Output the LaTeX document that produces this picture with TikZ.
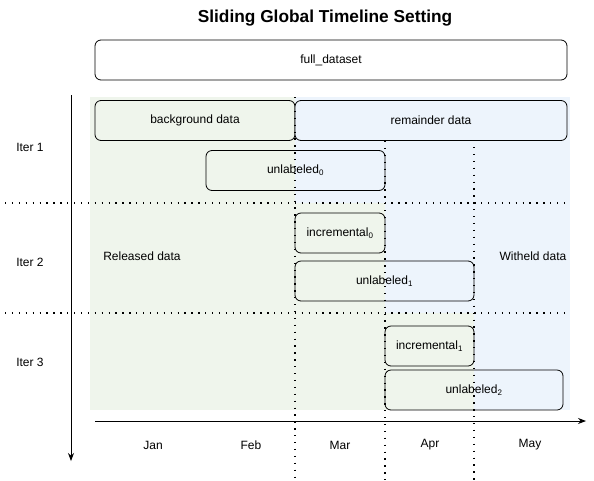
\documentclass[tikz,border=0pt]{standalone}
\usepackage{fontspec}
\setmainfont{Liberation Sans}
\usetikzlibrary{positioning,arrows.meta}
\definecolor{releasedgreen}{RGB}{239,245,236}
\definecolor{witheldblue}{RGB}{237,244,252}

\begin{document}
\begin{tikzpicture}[x=1pt,y=-1pt,every node/.style={font=\fontsize{12}{14}\selectfont}]
			\tikzstyle{block}=[draw=black,line width=0.8pt,rounded corners=6pt,minimum height=40pt,inner sep=0pt]
			\tikzstyle{released block}=[block,fill=releasedgreen]
			\tikzstyle{witheld block}=[block,fill=witheldblue]
			\tikzstyle{sep}=[line width=1.3pt,dash pattern=on 1.3pt off 5.6pt]
			\tikzstyle{axis}=[draw=black,line width=0.8pt,-{Stealth[length=8pt,width=6pt]}]
			\tikzstyle{annot}=[text centered]
			
			\useasboundingbox (0,0) rectangle (594,480);
			
			% Shade the released and witheld parts of every iteration
			\foreach \top/\bot/\cut in {97/203/295,203/313/385,313/410/474} {
				\fill[releasedgreen] (90,\top) rectangle (\cut,\bot);
				\fill[witheldblue] (\cut,\top) rectangle (570,\bot);
			}
			
			% Title
			\node[font=\fontsize{17.3}{20}\selectfont\bfseries] (title) at (325,18) {Sliding Global Timeline Setting};
			
			% Draw the data blocks
			\node[block,minimum width=472pt] (full) at (331,60) {full\_dataset};
			\node[released block,minimum width=200pt] (background) at (195,120.5) {background data};
			\node[witheld block,minimum width=272pt] (remainder) at (431,120.5) {remainder data};
			\node[block,minimum width=179pt] (U-0) at (295.5,170.5) {unlabeled\textsubscript{0}};
			\node[block,minimum width=90pt] (C-0) at (340,233) {incremental\textsubscript{0}};
			\node[block,minimum width=179pt] (U-1) at (384.5,281) {unlabeled\textsubscript{1}};
			\node[block,minimum width=89pt] (C-1) at (429.5,346) {incremental\textsubscript{1}};
			\node[block,minimum width=178pt] (U-2) at (474,390) {unlabeled\textsubscript{2}};
			
			% Separate the iterations
			\foreach \name/\y in {1/203,2/313} {
				\coordinate (S-\name) at (5,\y);
				\coordinate (S-\name-end) at (570,\y);
				\draw[sep] (S-\name) -- (S-\name-end);
			}
			
			% Separate the months
			\foreach \name/\x/\y in {1/295/97,2/385/141,3/474/147} {
				\coordinate (M-\name) at (\x,\y);
				\coordinate (M-\name-end) at (\x,480);
				\draw[sep] (M-\name) -- (M-\name-end);
			}
			
			% Iteration and time axes
			\coordinate (iter-start) at (71,95);
			\coordinate (iter-end) at (71,461);
			\draw[axis] (iter-start) -- (iter-end);
			\coordinate (time-start) at (95,421);
			\coordinate (time-end) at (586,421);
			\draw[axis] (time-start) -- (time-end);
			
			% Annotate the iterations
			\foreach \name/\y in {1/147,2/262,3/362}
			\node[annot] (I-\name) at (30,\y) {Iter \name};
			
			% Annotate the months
			\foreach \name/\x in {Jan/153,Feb/251,Mar/340,Apr/430,May/530}
			\node[annot] (\name) at (\x,445) {\name};
			
			% Annotate the released and witheld data
			\node[annot] (released) at (142,256) {Released data};
			\node[annot] (witheld) at (533,256) {Witheld data};
		\end{tikzpicture}
\end{document}
